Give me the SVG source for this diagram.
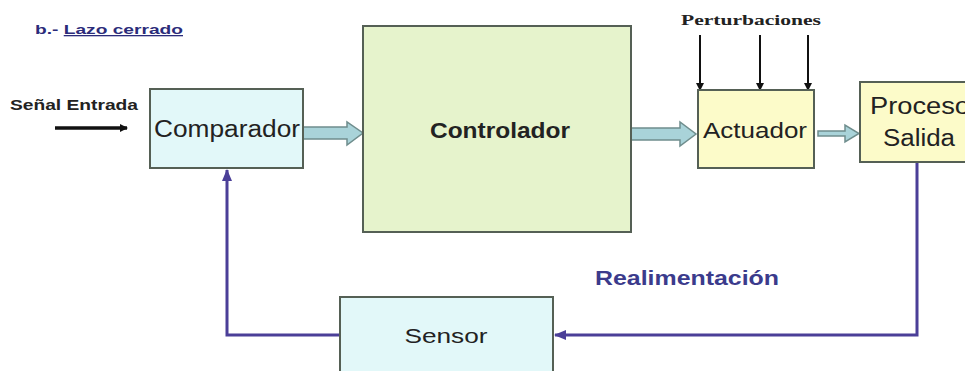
<svg xmlns="http://www.w3.org/2000/svg" width="965" height="371" viewBox="0 0 965 371">
<defs>
<style>
.box{stroke:#556055;stroke-width:2}
.cyan{fill:#e2f8f9}
.green{fill:#e6f3cc}
.yellow{fill:#fcfbc9}
.lbl{font-family:"Liberation Sans",Arial,sans-serif;fill:#222;text-anchor:middle}
.blk{fill:#a9d3d9;stroke:#6f8d8d;stroke-width:1.5}
.fb{fill:none;stroke:#4b3f98;stroke-width:3}
.thin{stroke:#111;stroke-width:2}
</style>
<marker id="ah" markerWidth="8" markerHeight="8" refX="7" refY="4" orient="auto" markerUnits="userSpaceOnUse"><path d="M0,0 L8,4 L0,8 z" fill="#111"/></marker>
<marker id="fbh" markerWidth="12" markerHeight="10" refX="11" refY="5" orient="auto" markerUnits="userSpaceOnUse"><path d="M0,0 L12,5 L0,10 z" fill="#4b3f98"/></marker>
</defs>
<text x="35" y="34" style="font-family:'Liberation Sans',Arial,sans-serif;font-size:13px;font-weight:bold;fill:#2b2b7a" textLength="148" lengthAdjust="spacingAndGlyphs">b.- <tspan text-decoration="underline">Lazo cerrado</tspan></text>
<text x="10" y="110" style="font-family:'Liberation Sans',Arial,sans-serif;font-size:14px;font-weight:bold;fill:#222" textLength="128" lengthAdjust="spacingAndGlyphs">Señal Entrada</text>
<text x="681" y="25" style="font-family:'Liberation Serif','Times New Roman',serif;font-size:14px;font-weight:bold;fill:#222" textLength="140" lengthAdjust="spacingAndGlyphs">Perturbaciones</text>
<g id="connectors">
<line x1="55" y1="128" x2="127" y2="128" stroke="#111" stroke-width="3.5" marker-end="url(#ah)"/>
<line class="thin" x1="700" y1="35" x2="700" y2="90" marker-end="url(#ah)"/>
<line class="thin" x1="760" y1="35" x2="760" y2="90" marker-end="url(#ah)"/>
<line class="thin" x1="808" y1="35" x2="808" y2="90" marker-end="url(#ah)"/>
<path class="blk" d="M303,127 L347,127 L347,122 L363,133 L347,145 L347,139 L303,139 z"/>
<path class="blk" d="M631,128 L680,128 L680,122 L696,134 L680,146 L680,140 L631,140 z"/>
<path class="blk" d="M818,131 L845,131 L845,125 L859,133.5 L845,142 L845,136 L818,136 z"/>
<path class="fb" d="M917,162 L917,335 L555,335" marker-end="url(#fbh)"/>
<path class="fb" d="M340,335 L227,335 L227,170" marker-end="url(#fbh)"/>
</g>
<g id="comparador">
<rect class="box cyan" x="150" y="89" width="153" height="79"/>
<text class="lbl" x="227" y="137" style="font-size:23px" textLength="146" lengthAdjust="spacingAndGlyphs">Comparador</text>
</g>
<g id="controlador">
<rect class="box green" x="363" y="26" width="268" height="206"/>
<text class="lbl" x="500" y="138" style="font-size:22px;font-weight:bold" textLength="140" lengthAdjust="spacingAndGlyphs">Controlador</text>
</g>
<g id="actuador">
<rect class="box yellow" x="698" y="90" width="116" height="78"/>
<text class="lbl" x="755" y="138" style="font-size:22px" textLength="104" lengthAdjust="spacingAndGlyphs">Actuador</text>
</g>
<g id="proceso">
<rect class="box yellow" x="860" y="82" width="110" height="80"/>
<text x="870" y="114" style="font-family:'Liberation Sans',Arial,sans-serif;font-size:23px;fill:#222" textLength="100" lengthAdjust="spacingAndGlyphs">Proceso</text>
<text x="883" y="146" style="font-family:'Liberation Sans',Arial,sans-serif;font-size:23px;fill:#222" textLength="72" lengthAdjust="spacingAndGlyphs">Salida</text>
</g>
<g id="sensor">
<rect class="box cyan" x="340" y="297" width="213" height="80"/>
<text class="lbl" x="446" y="343" style="font-size:20px" textLength="83" lengthAdjust="spacingAndGlyphs">Sensor</text>
</g>
<text x="595" y="285" style="font-family:'Liberation Sans',Arial,sans-serif;font-size:20px;font-weight:bold;fill:#3b3b8c" textLength="184" lengthAdjust="spacingAndGlyphs">Realimentación</text>
</svg>
